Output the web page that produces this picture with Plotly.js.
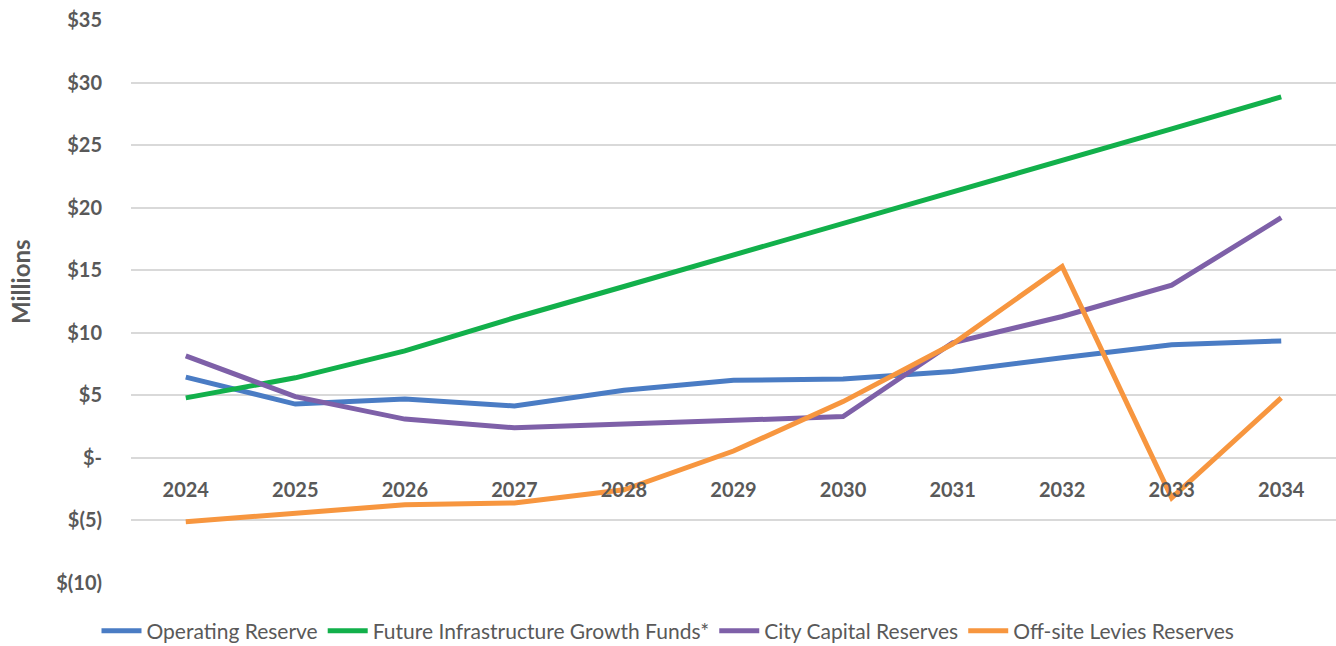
<!DOCTYPE html>
<html>
<head>
<meta charset="utf-8">
<script src="https://cdn.plot.ly/plotly-3.0.1.min.js"></script>
<style>html,body{margin:0;padding:0;background:#fff;}#chart{width:1336px;height:646px;}</style>
</head>
<body>
<div id="chart"></div>
<script>
const years = ["2024","2025","2026","2027","2028","2029","2030","2031","2032","2033","2034"];
const operatingReserve = [6.45, 4.3, 4.7, 4.15, 5.4, 6.2, 6.3, 6.9, 8.0, 9.05, 9.35];
const futureInfrastructure = [4.8, 6.4, 8.55, 11.2, 13.7, 16.2, 18.75, 21.3, 23.8, 26.3, 28.85];
const cityCapital = [8.15, 4.9, 3.1, 2.4, 2.7, 2.95, 3.3, 9.2, 11.3, 13.8, 19.2];
const offsiteLevies = [-5.1, -4.4, -3.75, -3.6, -2.55, 0.55, 4.5, 9.1, 15.3, -3.2, 4.8];
const seriesNames = ["Operating Reserve", "Future Infrastructure Growth Funds*", "City Capital Reserves", "Off-site Levies Reserves"];
const yTickVals = [-10, -5, 0, 5, 10, 15, 20, 25, 30, 35];
const yTickText = ["$(10)", "$(5)", "$-", "$5", "$10", "$15", "$20", "$25", "$30", "$35"];

const colors = ["#4a7cc4", "#12b04b", "#7e60a8", "#f7963f"];
const series = [operatingReserve, futureInfrastructure, cityCapital, offsiteLevies];

const traces = series.map((vals, i) => ({
  type: "scatter",
  mode: "lines",
  x: years,
  y: vals,
  name: seriesNames[i],
  line: {color: colors[i], width: 5},
  hoverinfo: "skip"
}));

const gray = "#595959";
const fam = "Lato, 'Open Sans', sans-serif";
const layout = {
  width: 1336, height: 646,
  margin: {l: 131, r: 0, t: 20, b: 63, autoexpand: false},
  paper_bgcolor: "#ffffff",
  plot_bgcolor: "#ffffff",
  showlegend: true,
  legend: {
    orientation: "h",
    x: (668 - 131) / 1205, xanchor: "center",
    y: (583 - 631) / 563, yanchor: "middle",
    font: {family: fam, size: 21, color: gray},
    itemwidth: 40,
    tracegroupgap: 0
  },
  xaxis: {
    type: "category",
    range: [-0.5, 10.5],
    anchor: "free",
    position: (583 - 458) / 563,
    showgrid: false,
    zeroline: false,
    showline: false,
    ticks: "outside",
    ticklen: 14,
    tickcolor: "rgba(0,0,0,0)",
    tickfont: {family: fam, size: 20, color: gray, weight: "bold"},
    fixedrange: true
  },
  yaxis: {
    range: [-10, 35],
    tickvals: yTickVals,
    ticktext: yTickText,
    showgrid: true,
    gridcolor: "#d9d9d9",
    gridwidth: 2,
    zeroline: false,
    showline: false,
    ticks: "outside",
    ticklen: 24,
    tickcolor: "rgba(0,0,0,0)",
    tickfont: {family: fam, size: 20, color: gray, weight: "bold"},
    fixedrange: true
  },
  annotations: [{
    text: "Millions",
    xref: "paper", yref: "paper",
    x: (20 - 131) / 1205, y: (583 - 282) / 563,
    xanchor: "center", yanchor: "middle",
    textangle: -90,
    showarrow: false,
    font: {family: fam, size: 24, color: gray, weight: "bold"}
  }]
};

Plotly.newPlot("chart", traces, layout, {displayModeBar: false, staticPlot: true});
</script>
</body>
</html>
